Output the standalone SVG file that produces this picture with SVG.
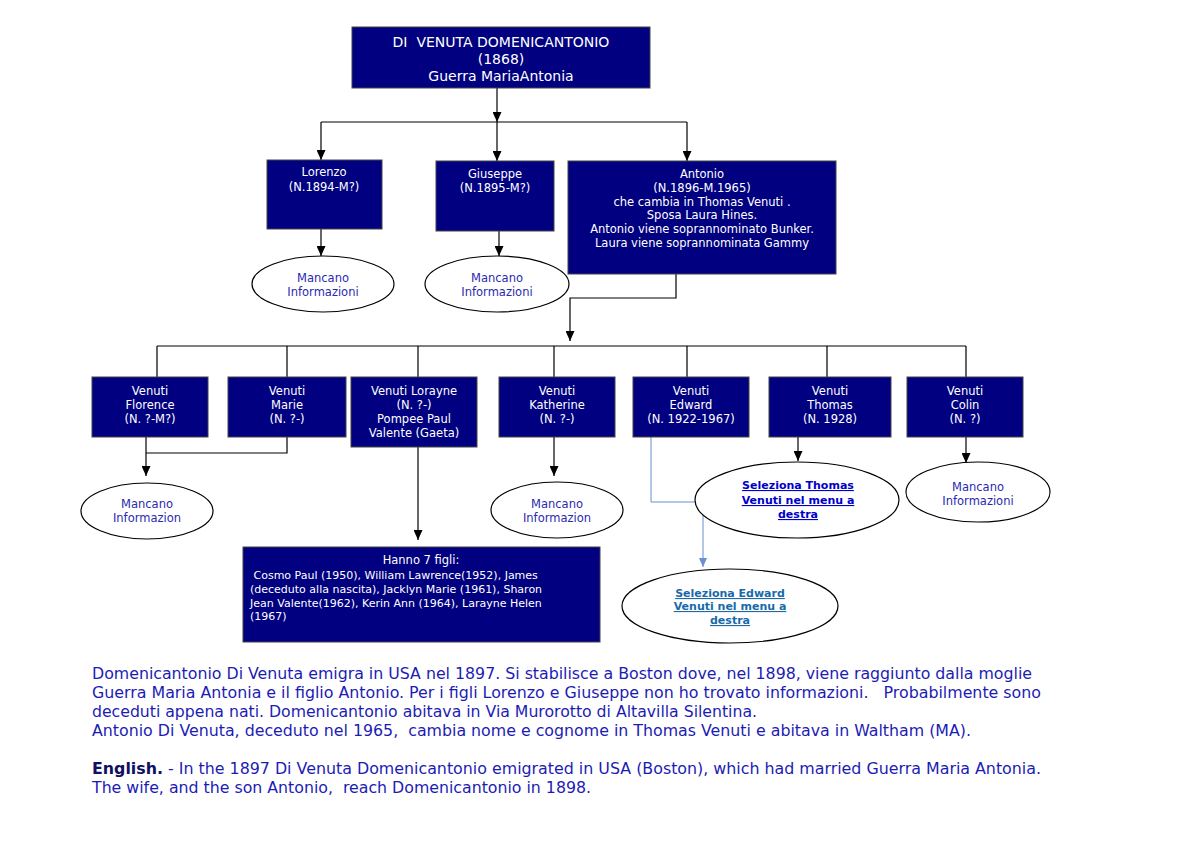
<svg xmlns="http://www.w3.org/2000/svg" width="1200" height="849" viewBox="0 0 1200 849">
<style>
.box{fill:#000080;stroke:#444;stroke-width:1}
.ell{fill:#fff;stroke:#000;stroke-width:1.2}
.bt{font-family:"DejaVu Sans",Verdana,sans-serif;font-size:11.5px;fill:#fff;text-anchor:middle}
.ht{font-family:"DejaVu Sans",Verdana,sans-serif;font-size:11px;fill:#fff;white-space:pre}
.tt{font-family:"DejaVu Sans",Verdana,sans-serif;font-size:14px;fill:#fff;text-anchor:middle;white-space:pre}
.et{font-family:"DejaVu Sans",Verdana,sans-serif;font-size:11.5px;fill:#2a2ab0;text-anchor:middle}
.lk{font-family:"DejaVu Sans",Verdana,sans-serif;font-size:11px;font-weight:bold;text-decoration:underline;text-anchor:middle}
.pt{font-family:"DejaVu Sans",Verdana,sans-serif;font-size:16px;fill:#1c1cb4;white-space:pre}
.c{fill:none;stroke:#000;stroke-width:1.2}
.cb{fill:none;stroke:#6a8ed0;stroke-width:1}
</style>
<defs>
<marker id="ah" viewBox="0 0 10 9" refX="10" refY="4.5" markerWidth="10" markerHeight="9" markerUnits="userSpaceOnUse" orient="auto"><path d="M0,0 L10,4.5 L0,9 z" fill="#000"/></marker>
<marker id="ahb" viewBox="0 0 10 9" refX="10" refY="4.5" markerWidth="9" markerHeight="8" markerUnits="userSpaceOnUse" orient="auto"><path d="M0,0 L10,4.5 L0,9 z" fill="#6a8ed0"/></marker>
</defs>

<g id="connectors">
<path class="c" d="M497,88 V122" marker-end="url(#ah)"/>
<path class="c" d="M321,122 H687"/>
<path class="c" d="M321,122 V160" marker-end="url(#ah)"/>
<path class="c" d="M497,122 V161" marker-end="url(#ah)"/>
<path class="c" d="M687,122 V161" marker-end="url(#ah)"/>
<path class="c" d="M321,229 V256" marker-end="url(#ah)"/>
<path class="c" d="M499,231 V256" marker-end="url(#ah)"/>
<path class="c" d="M676,258 V298 H570 V341" marker-end="url(#ah)"/>
<path class="c" d="M157,346 H966"/>
<path class="c" d="M157,346 V377 M287,346 V377 M418,346 V377 M554,346 V377 M687,346 V377 M827,346 V377 M966,346 V377"/>
<path class="c" d="M287,437 V453 H146"/>
<path class="c" d="M146,437 V476" marker-end="url(#ah)"/>
<path class="c" d="M418,447 V540" marker-end="url(#ah)"/>
<path class="c" d="M554,437 V476" marker-end="url(#ah)"/>
<path class="cb" d="M651,437 V502 H703 V567" marker-end="url(#ahb)"/>
<path class="c" d="M798,437 V461" marker-end="url(#ah)"/>
<path class="c" d="M966,437 V463" marker-end="url(#ah)"/>
</g>

<g id="n-domenicantonio">
<rect class="box" x="352" y="27" width="298" height="61"/>
<text class="tt" x="501" y="47">DI  VENUTA DOMENICANTONIO</text>
<text class="tt" x="501" y="64">(1868)</text>
<text class="tt" x="501" y="81">Guerra MariaAntonia</text>
</g>

<g id="n-lorenzo">
<rect class="box" x="267" y="160" width="115" height="69"/>
<text class="bt" x="324" y="176">Lorenzo</text>
<text class="bt" x="324" y="191">(N.1894-M?)</text>
</g>
<g id="n-giuseppe">
<rect class="box" x="436" y="161" width="118" height="70"/>
<text class="bt" x="495" y="178">Giuseppe</text>
<text class="bt" x="495" y="192">(N.1895-M?)</text>
</g>
<g id="n-antonio">
<rect class="box" x="568" y="161" width="268" height="113"/>
<text class="bt" x="702" y="178">Antonio</text>
<text class="bt" x="702" y="192">(N.1896-M.1965)</text>
<text class="bt" x="702" y="206">che cambia in Thomas Venuti .</text>
<text class="bt" x="702" y="219">Sposa Laura Hines.</text>
<text class="bt" x="702" y="233">Antonio viene soprannominato Bunker.</text>
<text class="bt" x="702" y="247">Laura viene soprannominata Gammy</text>
</g>

<g id="e-lorenzo">
<ellipse class="ell" cx="323" cy="284" rx="71" ry="28"/>
<text class="et" x="323" y="282">Mancano</text>
<text class="et" x="323" y="296">Informazioni</text>
</g>
<g id="e-giuseppe">
<ellipse class="ell" cx="497" cy="284" rx="72" ry="28"/>
<text class="et" x="497" y="282">Mancano</text>
<text class="et" x="497" y="296">Informazioni</text>
</g>

<g id="n-florence">
<rect class="box" x="92" y="377" width="116" height="60"/>
<text class="bt" x="150" y="395">Venuti</text>
<text class="bt" x="150" y="409">Florence</text>
<text class="bt" x="150" y="423">(N. ?-M?)</text>
</g>
<g id="n-marie">
<rect class="box" x="228" y="377" width="118" height="60"/>
<text class="bt" x="287" y="395">Venuti</text>
<text class="bt" x="287" y="409">Marie</text>
<text class="bt" x="287" y="423">(N. ?-)</text>
</g>
<g id="n-lorayne">
<rect class="box" x="351" y="377" width="126" height="70"/>
<text class="bt" x="414" y="395">Venuti Lorayne</text>
<text class="bt" x="414" y="409">(N. ?-)</text>
<text class="bt" x="414" y="423">Pompee Paul</text>
<text class="bt" x="414" y="437">Valente (Gaeta)</text>
</g>
<g id="n-katherine">
<rect class="box" x="499" y="377" width="116" height="60"/>
<text class="bt" x="557" y="395">Venuti</text>
<text class="bt" x="557" y="409">Katherine</text>
<text class="bt" x="557" y="423">(N. ?-)</text>
</g>
<g id="n-edward">
<rect class="box" x="633" y="377" width="116" height="60"/>
<text class="bt" x="691" y="395">Venuti</text>
<text class="bt" x="691" y="409">Edward</text>
<text class="bt" x="691" y="423">(N. 1922-1967)</text>
</g>
<g id="n-thomas">
<rect class="box" x="769" y="377" width="122" height="60"/>
<text class="bt" x="830" y="395">Venuti</text>
<text class="bt" x="830" y="409">Thomas</text>
<text class="bt" x="830" y="423">(N. 1928)</text>
</g>
<g id="n-colin">
<rect class="box" x="907" y="377" width="116" height="60"/>
<text class="bt" x="965" y="395">Venuti</text>
<text class="bt" x="965" y="409">Colin</text>
<text class="bt" x="965" y="423">(N. ?)</text>
</g>

<g id="e-florence">
<ellipse class="ell" cx="147" cy="511" rx="66" ry="28"/>
<text class="et" x="147" y="508">Mancano</text>
<text class="et" x="147" y="522">Informazion</text>
</g>
<g id="e-katherine">
<ellipse class="ell" cx="557" cy="510" rx="66" ry="28"/>
<text class="et" x="557" y="508">Mancano</text>
<text class="et" x="557" y="522">Informazion</text>
</g>
<g id="e-thomas">
<ellipse class="ell" cx="797" cy="500" rx="102" ry="38"/>
<text class="lk" x="798" y="489" fill="#0000cc">Seleziona Thomas</text>
<text class="lk" x="798" y="504" fill="#0000cc">Venuti nel menu a</text>
<text class="lk" x="798" y="518" fill="#0000cc">destra</text>
</g>
<g id="e-colin">
<ellipse class="ell" cx="978" cy="492" rx="72" ry="30"/>
<text class="et" x="978" y="491">Mancano</text>
<text class="et" x="978" y="505">Informazioni</text>
</g>
<g id="e-edward">
<ellipse class="ell" cx="730" cy="606" rx="108" ry="37"/>
<text class="lk" x="730" y="597" fill="#1a6aa8">Seleziona Edward</text>
<text class="lk" x="730" y="610" fill="#1a6aa8">Venuti nel menu a</text>
<text class="lk" x="730" y="624" fill="#1a6aa8">destra</text>
</g>

<g id="n-figli">
<rect class="box" x="243" y="547" width="357" height="95"/>
<text class="bt" x="421" y="564">Hanno 7 figli:</text>
<text class="ht" x="250" y="579"> Cosmo Paul (1950), William Lawrence(1952), James</text>
<text class="ht" x="250" y="593">(deceduto alla nascita), Jacklyn Marie (1961), Sharon</text>
<text class="ht" x="250" y="607">Jean Valente(1962), Kerin Ann (1964), Larayne Helen</text>
<text class="ht" x="250" y="620">(1967)</text>
</g>

<g id="notes">
<text class="pt" x="92" y="679" textLength="940" lengthAdjust="spacingAndGlyphs">Domenicantonio Di Venuta emigra in USA nel 1897. Si stabilisce a Boston dove, nel 1898, viene raggiunto dalla moglie</text>
<text class="pt" x="92" y="698" textLength="949" lengthAdjust="spacingAndGlyphs">Guerra Maria Antonia e il figlio Antonio. Per i figli Lorenzo e Giuseppe non ho trovato informazioni.   Probabilmente sono</text>
<text class="pt" x="92" y="717" textLength="665" lengthAdjust="spacingAndGlyphs">deceduti appena nati. Domenicantonio abitava in Via Murorotto di Altavilla Silentina.</text>
<text class="pt" x="92" y="736" textLength="879" lengthAdjust="spacingAndGlyphs">Antonio Di Venuta, deceduto nel 1965,  cambia nome e cognome in Thomas Venuti e abitava in Waltham (MA).</text>
<text class="pt" x="92" y="774" textLength="949" lengthAdjust="spacingAndGlyphs"><tspan font-weight="bold" fill="#101060">English.</tspan> - In the 1897 Di Venuta Domenicantonio emigrated in USA (Boston), which had married Guerra Maria Antonia.</text>
<text class="pt" x="92" y="793" textLength="499" lengthAdjust="spacingAndGlyphs">The wife, and the son Antonio,  reach Domenicantonio in 1898.</text>
</g>
</svg>
